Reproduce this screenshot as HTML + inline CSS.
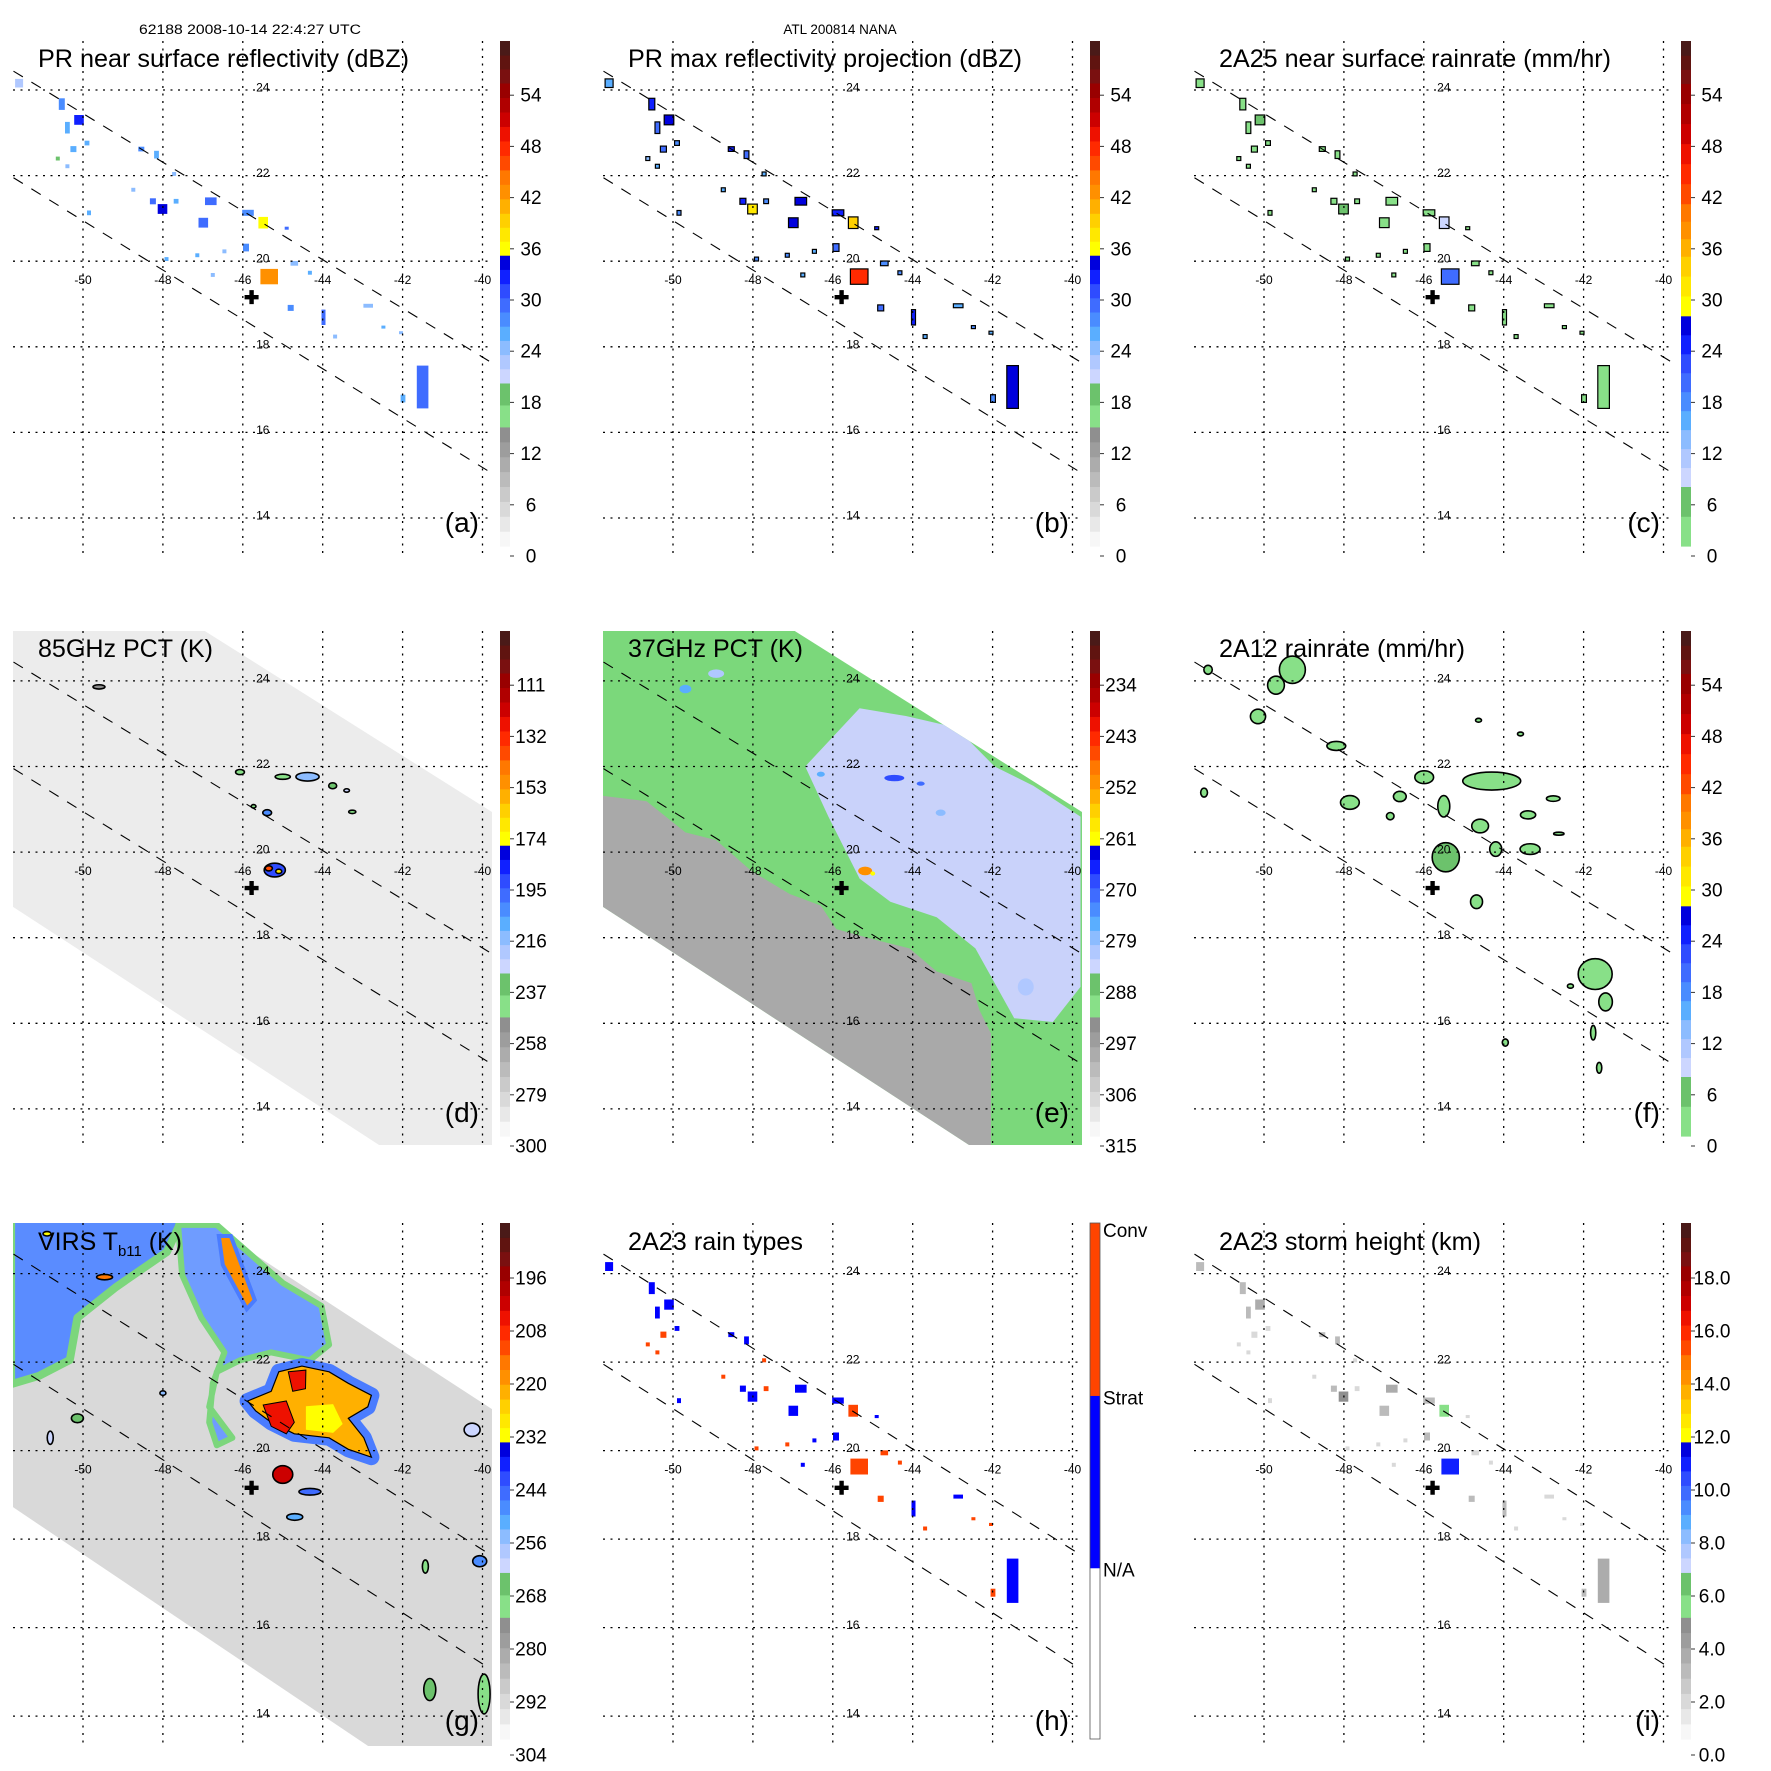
<!DOCTYPE html>
<html><head><meta charset="utf-8"><title>TRMM overpass panels</title>
<style>
html,body{margin:0;padding:0;background:#fff;}
svg{display:block;font-family:"Liberation Sans",Arial,sans-serif;}
</style></head>
<body>
<svg id="chart" xmlns="http://www.w3.org/2000/svg" width="1771" height="1771" viewBox="0 0 1771 1771">
<rect x="0" y="0" width="1771" height="1771" fill="#fff"/>
<text x="250" y="34" font-size="13.5" text-anchor="middle" textLength="222" lengthAdjust="spacingAndGlyphs">62188 2008-10-14 22:4:27 UTC</text>
<text x="840" y="34" font-size="13.5" text-anchor="middle">ATL 200814 NANA</text>
</svg>
<script>
// ---------- data ----------
const lonTicks=[-50,-48,-46,-44,-42,-40];
const latTicks=[24,22,20,18,16,14];
const centerLon=-45.78, centerLat=19.16;
const swathUpper=[[-51.74,24.44],[-39.79,17.64]];
const swathLower=[[-51.74,21.95],[-39.86,15.10]];
const swathEdge=[[-51.8,25.4],[-47.35,25.4],[-39.7,20.9],[-39.7,12.8],[-42.0,12.8],[-51.8,18.75]];
// PR rain cells (shared location list)
const cellLon=[-51.6,-50.53,-50.1,-50.39,-50.24,-49.9,-48.54,-48.16,-48.01,-48.25,-47.67,-48.74,-49.85,-46.8,-46.99,-45.87,-45.49,-45.92,-45.34,-44.71,-44.8,-43.98,-42.86,-44.9,-41.5,-41.99,-42.48,-42.04,-47.91,-47.14,-44.32,-46.75,-50.63,-50.39,-47.72,-46.46,-43.69];
const cellLat=[24.16,23.67,23.3,23.12,22.62,22.76,22.62,22.49,21.22,21.4,21.4,21.67,21.13,21.4,20.9,21.13,20.9,20.32,19.64,19.95,18.91,18.69,18.96,20.77,17.06,16.79,18.46,18.33,20.05,20.14,19.73,19.68,22.4,22.22,22.04,20.23,18.24];
const cellDLon=[.2,.15,.24,.12,.15,.12,.15,.12,.24,.15,.12,.1,.1,.29,.24,.29,.24,.15,.44,.19,.15,.1,.24,.1,.29,.12,.1,.1,.1,.1,.1,.1,.1,.1,.1,.1,.1];
const cellDLat=[.2,.27,.23,.27,.14,.11,.11,.18,.23,.14,.11,.09,.11,.18,.23,.14,.27,.18,.36,.11,.14,.36,.09,.07,1.0,.18,.07,.07,.09,.09,.09,.09,.09,.09,.09,.09,.09];
const dbzNear=[22,28,32,26,26,26,28,26,34,30,26,24,26,30,30,28,36,28,42,24,28,30,24,30,30,26,26,24,26,26,26,24,18,24,24,24,24];
const dbzMax=[26,32,34,30,30,28,32,30,38,32,28,26,28,34,34,32,40,30,48,28,30,32,26,32,34,28,28,26,28,28,28,26,24,26,26,26,26];
const rain2A25=[2,3,5,2,2,2,3,2,6,4,2,1,2,4,4,3,10,3,20,2,3,4,1,4,4,2,2,1,2,2,2,1,1,1,1,1,1];
const rainType=[1,1,1,1,2,1,1,1,1,1,2,2,1,1,1,1,2,1,2,2,2,1,1,1,1,2,2,2,2,2,2,1,2,2,2,1,2];
const stormHeight=[3,3,4,3,2,2,3,3,5,3,2,2,2,4,3,3,6,3,11,2,3,3,2,2,4,3,2,2,2,2,2,2,2,2,2,2,2];
// 85 GHz cells
const d85Lon=[-49.6,-46.07,-45.0,-44.38,-43.75,-43.4,-45.73,-45.39,-43.26,-45.2,-45.35,-45.1];
const d85Lat=[23.86,21.87,21.76,21.76,21.55,21.44,21.07,20.92,20.94,19.58,19.62,19.55];
const d85DLon=[.3,.22,.38,.58,.2,.14,.12,.22,.18,.53,.18,.15];
const d85DLat=[.1,.12,.12,.2,.14,.08,.08,.14,.08,.32,.12,.1];
const d85Val=[250,240,245,215,235,225,245,200,240,190,140,170];
// 37 GHz
const e37Gray=[[-51.8,21.32],[-50.66,21.19],[-49.69,20.46],[-48.92,20.28],[-48.04,19.56],[-47.08,19.02],[-46.3,18.75],[-45.91,18.2],[-44.85,17.93],[-44.08,17.75],[-43.4,17.21],[-42.53,16.94],[-42.33,16.31],[-42.04,15.76],[-42.04,12.8],[-51.8,12.8]];
const e37Scat=[[-46.69,22.0],[-45.33,23.36],[-44.17,23.18],[-42.91,22.91],[-41.95,22.0],[-40.98,21.55],[-39.8,20.83],[-39.8,16.85],[-40.49,16.03],[-41.46,16.12],[-42.43,17.75],[-43.4,18.48],[-44.56,18.84],[-45.33,19.38],[-46.11,20.83]];
const e37Lon=[-44.46,-46.3,-49.69,-48.92,-43.3,-41.17,-43.8,-45.19,-45.0];
const e37Lat=[21.73,21.82,23.81,24.17,20.92,16.85,21.6,19.56,19.5];
const e37DLon=[.5,.2,.3,.4,.25,.4,.2,.35,.12];
const e37DLat=[.15,.12,.2,.2,.15,.4,.1,.2,.1];
const e37Val=[268,275,276,281,278,280,272,250,262];
// 2A12
const f12Lon=[-49.29,-49.7,-50.15,-48.19,-51.5,-47.85,-46.6,-46.84,-45.99,-45.5,-45.45,-44.3,-44.59,-44.2,-44.68,-43.34,-43.39,-42.76,-41.71,-41.45,-41.76,-41.61,-43.96,-44.63,-43.58,-42.33,-42.62,-51.4];
const f12Lat=[24.26,23.9,23.17,22.48,21.39,21.16,21.3,20.84,21.75,21.07,19.88,21.66,20.61,20.07,18.84,20.07,20.87,21.25,17.15,16.5,15.78,14.96,15.55,23.08,22.76,16.87,20.43,24.26];
const f12DLon=[.65,.42,.38,.47,.17,.47,.32,.19,.47,.3,.68,1.45,.42,.3,.3,.5,.38,.34,.85,.34,.13,.13,.15,.15,.15,.15,.26,.21];
const f12DLat=[.64,.42,.34,.21,.21,.32,.24,.17,.3,.5,.68,.42,.32,.34,.32,.25,.19,.13,.72,.42,.34,.25,.17,.09,.09,.1,.07,.21];
const f12Val=[2,2,2,2,1,2,2,2,3,3,6,4,2,2,2,3,2,2,4,3,1,1,2,1,1,1,1,1];
// VIRS clouds
const gNW=[[-51.8,25.4],[-47.43,25.4],[-47.9,24.49],[-49.17,23.7],[-50.14,23.0],[-50.33,22.05],[-51.1,21.69],[-51.8,21.5]];
const gBand=[[-47.62,25.1],[-46.65,25.1],[-45.88,24.49],[-45.0,23.79],[-44.03,23.27],[-43.84,22.39],[-44.32,22.04],[-45.29,22.22],[-46.07,22.04],[-46.65,21.78],[-46.84,20.99],[-46.26,20.29],[-46.65,20.12],[-46.84,20.64],[-46.75,21.52],[-46.46,22.22],[-47.04,23.0],[-47.52,23.97]];
const gCore=[[-45.88,21.12],[-45.29,21.34],[-45.10,21.78],[-44.52,21.91],[-43.84,21.78],[-43.36,21.52],[-42.78,21.25],[-42.87,20.99],[-43.36,20.73],[-42.97,20.29],[-42.78,19.85],[-43.36,20.03],[-43.84,20.29],[-44.71,20.38],[-45.29,20.64],[-45.68,20.90]];
const gYellow=[[-44.42,21.0],[-43.74,21.05],[-43.5,20.6],[-43.74,20.4],[-44.42,20.47]];
const gRed1=[[-45.49,21.03],[-44.91,21.12],[-44.71,20.64],[-44.91,20.38],[-45.29,20.55]];
const gRed2=[[-44.86,21.78],[-44.42,21.82],[-44.43,21.40],[-44.75,21.34]];
const gStreak=[[-46.6,24.85],[-46.3,24.85],[-45.7,23.4],[-45.9,23.2],[-46.5,24.2]];
const gBlobLon=[-45.0,-44.7,-44.32,-41.43,-41.32,-39.96,-40.07,-40.26,-50.82,-50.14,-48.0,-49.46,-50.9];
const gBlobLat=[19.46,18.5,19.07,17.38,14.6,14.5,17.5,20.47,20.29,20.73,21.3,23.92,24.9];
const gBlobDLon=[.5,.4,.55,.15,.3,.3,.35,.4,.15,.3,.15,.4,.2];
const gBlobDLat=[.4,.15,.15,.3,.5,.9,.25,.3,.3,.2,.1,.12,.1];
const gBlobVal=[202,250,246,268,266,268,248,262,262,264,255,216,230];
// colorbar tick labels
const ticksDbz=['0','6','12','18','24','30','36','42','48','54'];
const ticks85=['300','279','258','237','216','195','174','153','132','111'];
const ticks37=['315','306','297','288','279','270','261','252','243','234'];
const ticksIR=['304','292','280','268','256','244','232','220','208','196'];
const ticksHt=['0.0','2.0','4.0','6.0','8.0','10.0','12.0','14.0','16.0','18.0'];
const typeLabels=['N/A','Strat','Conv'];

// ---------- layout ----------
const NS='http://www.w3.org/2000/svg';
const svg=document.getElementById('chart');
function el(tag,attrs,parent){const e=document.createElementNS(NS,tag);for(const k in attrs)e.setAttribute(k,attrs[k]);(parent||svg).appendChild(e);return e;}
const colLeft=[0,590,1181], rowTop=[0,590,1183];
const rowBase24=[90,90.9,90.6], rowLatPx=[42.8,42.8,44.25];
const rowPlotTop=[41,41,40], rowPlotBot=[555,555,563];
const rowCbTop=[41,41,40], rowCbBot=[546,546,556], rowLab0=[556,556,572], rowLabStep=[51.2,51.2,53];
const REDS=['#ff4a00','#ff2a00','#ee1100','#cc0000','#b00000','#990000'];
const DARKS=['#7a1010','#601410','#4a1a18'];
const BLUES=['#ccd6ff','#b0c8ff','#8cbcff','#5aaeff','#4a8cff','#3f6cff','#2f4cff','#1020ff','#0000dd'];
const STD=[[0,.236,['#f7f7f7','#e8e8e8','#d9d9d9','#cacaca','#bbbbbb','#acacac','#9d9d9d','#8f8f8f']],[.236,.323,['#88e088','#6cc26c']],[.323,.576,BLUES],[.576,.659,['#ffff00','#ffe800','#ffd000']],[.659,.745,['#ffb000','#ff9000','#ff7800']],[.745,.917,REDS],[.917,1,DARKS]];
const RAIN=[[0,.118,['#88e088','#6cc26c']],[.118,.456,BLUES],[.456,.574,['#ffff00','#ffe800','#ffd000']],[.574,.678,['#ffb000','#ff9000','#ff7800']],[.678,.916,REDS],[.916,1,DARKS]];
const TYPE=[[0,.332,['#ffffff']],[.332,.666,['#0000ff']],[.666,1,['#ff4400']]];
function bandColor(bands,f){f=Math.max(0,Math.min(.9999,f));for(const b of bands){if(f>=b[0]&&f<b[1]){const n=b[2].length;return b[2][Math.min(n-1,Math.floor((f-b[0])/(b[1]-b[0])*n))];}}return bands[0][2][0];}

function makePanel(p){
  const X=colLeft[p.col],Y=rowTop[p.row],r=p.row;
  const lx=lon=>X+83+(lon+50)*39.95;
  const ly=lat=>Y+rowBase24[r]+(24-lat)*rowLatPx[r];
  const pts=a=>a.map(q=>lx(q[0]).toFixed(1)+','+ly(q[1]).toFixed(1)).join(' ');
  const cbTop=Y+rowCbTop[r],cbBot=Y+rowCbBot[r],lab0=Y+rowLab0[r],labStep=rowLabStep[r];
  const col=v=>{if(p.cat)return bandColor(p.bands,(v+0.5)/3);const yv=lab0-(v-p.v0)/p.step*labStep;return bandColor(p.bands,(cbBot-yv)/(cbBot-cbTop));};
  const g=el('g',{});
  
  
  const cp=el('clipPath',{id:'clip-'+p.id},g);
  el('rect',{x:X+13,y:Y+rowPlotTop[r],width:479,height:rowPlotBot[r]-rowPlotTop[r]},cp);
  const plot=el('g',{'clip-path':'url(#clip-'+p.id+')'},g);
  
  
  const ctx={lx,ly,pts,col,plot};
  p.draw(ctx);
  const grid=el('g',{stroke:'#000','stroke-width':1.3,'stroke-dasharray':'2,5.5',fill:'none'},g);
  
  
  lonTicks.forEach(lon=>{const ln=el('line',{x1:lx(lon),x2:lx(lon),y1:Y+rowPlotTop[r],y2:Y+rowPlotBot[r]},grid);
    
    });
  latTicks.forEach(lat=>{const ln=el('line',{x1:X+13,x2:X+492,y1:ly(lat),y2:ly(lat)},grid);
    
    });
  [swathUpper,swathLower].forEach((s,i)=>{const ln=el('line',{x1:lx(s[0][0]),y1:ly(s[0][1]),x2:lx(s[1][0]),y2:ly(s[1][1]),stroke:'#000','stroke-width':1.1,'stroke-dasharray':'11,10'},g);
    
    });
  lonTicks.forEach(lon=>{const t=el('text',{x:lx(lon),y:ly(20)+23,'font-size':12,'text-anchor':'middle'},g);t.textContent=String(lon);
    
    });
  latTicks.forEach(lat=>{const t=el('text',{x:lx(-46)+20,y:ly(lat)+1.5,'font-size':12,'text-anchor':'middle'},g);t.textContent=String(lat);
    
    });
  const cx=lx(centerLon),cy=ly(centerLat);
  const cr=el('path',{d:`M${cx-7},${cy-2.2}h14v4.4h-14zM${cx-2.2},${cy-7}h4.4v14h-4.4z`,fill:'#000'},g);
  
  
  const tt=el('text',{x:X+38,y:Y+67,'font-size':25,textLength:p.tw,lengthAdjust:'spacingAndGlyphs'},g);
  if(p.sub){tt.textContent=p.title;const s=el('tspan',{'font-size':15,dy:6},tt);s.textContent=p.sub;const s2=el('tspan',{dy:-6},tt);s2.textContent=' (K)';}
  else tt.textContent=p.title;
  
  
  const lt=el('text',{x:X+479,y:Y+(r==2?547:532),'font-size':28,'text-anchor':'end'},g);lt.textContent=p.letter;
  
  
  const cb=el('g',{},g);
  
  
  const H=cbBot-cbTop;
  p.bands.forEach(b=>{const n=b[2].length;for(let i=0;i<n;i++){const f0=b[0]+(b[1]-b[0])*i/n,f1=b[0]+(b[1]-b[0])*(i+1)/n;
    el('rect',{x:X+500,y:(cbBot-f1*H).toFixed(2),width:10,height:((f1-f0)*H+0.6).toFixed(2),fill:b[2][i]},cb);}});
  el('rect',{x:X+500,y:cbTop,width:10,height:H,fill:'none',stroke:p.cat?'#555':'none','stroke-width':0.8},cb);
  if(p.cat){
    typeLabels.forEach((s,i)=>{const yb=cbBot-[0.332,0.666,1][i]*H;const t=el('text',{x:X+513,y:yb+(i==2?14:9),'font-size':19},cb);t.textContent=s;
      
      });
  } else {
    p.ticks.forEach((s,k)=>{const y=lab0-k*labStep;const t=el('text',{x:X+531,y:y+6.5,'font-size':19,'text-anchor':'middle'},cb);t.textContent=s;
      
      
      el('line',{x1:X+510,x2:X+514,y1:y,y2:y,stroke:'#333','stroke-width':1},cb);});
  }
}
function drawCells(c,vals,outline){
  cellLon.forEach((lon,i)=>{const x0=c.lx(lon-cellDLon[i]/2),x1=c.lx(lon+cellDLon[i]/2),y0=c.ly(cellLat[i]+cellDLat[i]/2),y1=c.ly(cellLat[i]-cellDLat[i]/2);
    const e=el('rect',{x:x0.toFixed(1),y:y0.toFixed(1),width:Math.max(2.5,x1-x0).toFixed(1),height:Math.max(2.5,y1-y0).toFixed(1),fill:c.col(vals[i]),stroke:outline?'#000':'none','stroke-width':1.2},c.plot);
    
    });
}
function drawEll(c,lons,lats,dl,dt,vals,stroke){
  lons.forEach((lon,i)=>{const rx=(c.lx(lon+dl[i]/2)-c.lx(lon-dl[i]/2))/2,ry=(c.ly(lats[i]-dt[i]/2)-c.ly(lats[i]+dt[i]/2))/2;
    const e=el('ellipse',{cx:c.lx(lon),cy:c.ly(lats[i]),rx:Math.max(1.5,rx),ry:Math.max(1.5,ry),fill:c.col(vals[i]),stroke:stroke||'none','stroke-width':1.6},c.plot);
    
    });
}
function poly(c,arr,fill,name,extra){const a={points:c.pts(arr),fill:fill};if(extra)for(const k in extra)a[k]=extra[k];const e=el('polygon',a,c.plot);
  
  return e;}

const panels=[
 {id:'a',letter:'(a)',col:0,row:0,title:'PR near surface reflectivity (dBZ)',tw:371,bands:STD,ticks:ticksDbz,v0:0,step:6,draw:c=>drawCells(c,dbzNear,false)},
 {id:'b',letter:'(b)',col:1,row:0,title:'PR max reflectivity projection (dBZ)',tw:394,bands:STD,ticks:ticksDbz,v0:0,step:6,draw:c=>drawCells(c,dbzMax,true)},
 {id:'c',letter:'(c)',col:2,row:0,title:'2A25 near surface rainrate (mm/hr)',tw:392,bands:RAIN,ticks:ticksDbz,v0:0,step:6,draw:c=>drawCells(c,rain2A25,true)},
 {id:'d',letter:'(d)',col:0,row:1,title:'85GHz PCT (K)',tw:175,bands:STD,ticks:ticks85,v0:300,step:-21,draw:c=>{
   poly(c,swathEdge,'#ececec','tmi-swath');
   drawEll(c,d85Lon,d85Lat,d85DLon,d85DLat,d85Val,'#000');}},
 {id:'e',letter:'(e)',col:1,row:1,title:'37GHz PCT (K)',tw:175,bands:STD,ticks:ticks37,v0:315,step:-9,draw:c=>{
   poly(c,swathEdge,'#7bd87b','tmi-swath');
   const cpid='sw-e';const cp=el('clipPath',{id:cpid},c.plot);el('polygon',{points:c.pts(swathEdge)},cp);
   const gg=el('g',{'clip-path':'url(#'+cpid+')'},c.plot);
   const a=el('polygon',{points:c.pts(e37Gray),fill:'#a9a9a9'},gg);
   const b=el('polygon',{points:c.pts(e37Scat),fill:'#c9d2fa'},gg);
   drawEll(c,e37Lon,e37Lat,e37DLon,e37DLat,e37Val,null);}},
 {id:'f',letter:'(f)',col:2,row:1,title:'2A12 rainrate (mm/hr)',tw:246,bands:RAIN,ticks:ticksDbz,v0:0,step:6,draw:c=>drawEll(c,f12Lon,f12Lat,f12DLon,f12DLat,f12Val,'#000')},
 {id:'g',letter:'(g)',col:0,row:2,title:'VIRS T',sub:'b11',tw:144,bands:STD,ticks:ticksIR,v0:304,step:-12,draw:c=>{
   poly(c,swathEdge,'#d9d9d9','virs-swath');
   poly(c,gNW,'#5a8cff','nw-cloud-field',{stroke:'#7cd67c','stroke-width':8,'stroke-linejoin':'round'});
   poly(c,gBand,'#6f9cff','cloud-band',{stroke:'#7cd67c','stroke-width':6,'stroke-linejoin':'round'});
   poly(c,gCore,'#4a7cff','anvil-edge',{stroke:'#4a7cff','stroke-width':16,'stroke-linejoin':'round'});
   poly(c,gCore,c.col(222),'anvil-core',{stroke:'#000','stroke-width':1.2});
   poly(c,gYellow,c.col(230),'anvil-yellow');
   poly(c,gRed1,c.col(206),'cold-top-1',{stroke:'#000','stroke-width':1});
   poly(c,gRed2,c.col(206),'cold-top-2',{stroke:'#000','stroke-width':1});
   poly(c,gStreak,c.col(220),'cold-streak',{stroke:'#4a7cff','stroke-width':4});
   drawEll(c,gBlobLon,gBlobLat,gBlobDLon,gBlobDLat,gBlobVal,'#000');}},
 {id:'h',letter:'(h)',col:1,row:2,title:'2A23 rain types',tw:175,bands:TYPE,cat:true,draw:c=>drawCells(c,rainType,false)},
 {id:'i',letter:'(i)',col:2,row:2,title:'2A23 storm height (km)',tw:262,bands:STD,ticks:ticksHt,v0:0,step:2,draw:c=>drawCells(c,stormHeight,false)}
];
panels.forEach(makePanel);
</script>
</body></html>
